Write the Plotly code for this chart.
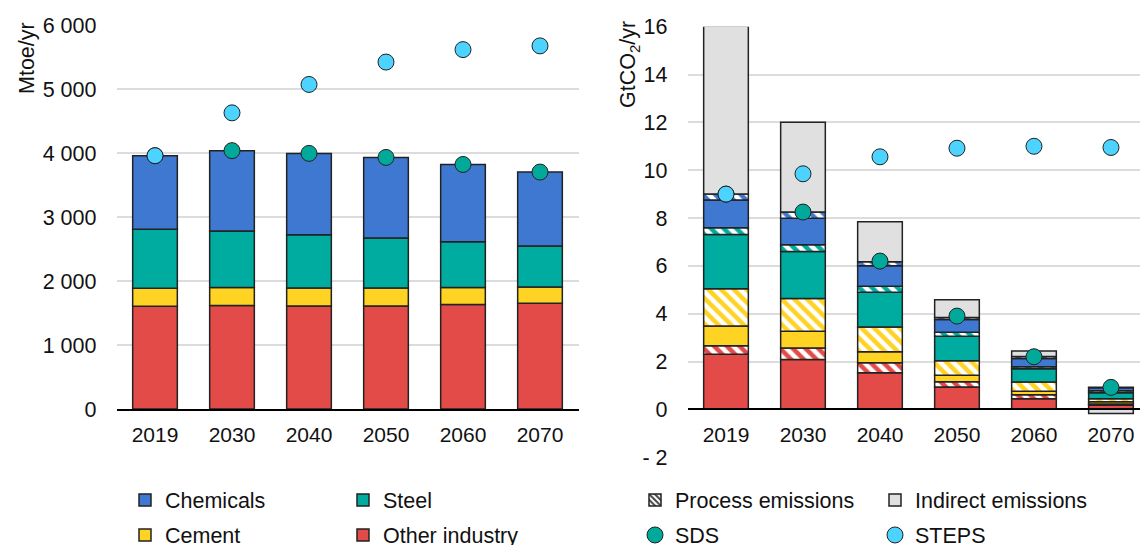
import plotly.graph_objects as go

years = ["2019", "2030", "2040", "2050", "2060", "2070"]

# Left panel: final energy demand (Mtoe/yr)
other_energy = [1606, 1617, 1611, 1611, 1633, 1653]
cement_energy = [282, 283, 282, 282, 267, 256]
steel_energy = [922, 883, 832, 780, 715, 639]
chem_energy = [1151, 1257, 1272, 1261, 1209, 1157]
sds_energy = [3961, 4040, 3997, 3934, 3824, 3705]
steps_energy = [3961, 4631, 5075, 5425, 5620, 5678]

# Right panel: CO2 emissions (GtCO2/yr)
other_direct = [2.30, 2.09, 1.53, 0.93, 0.44, 0.17]
other_process = [0.36, 0.48, 0.42, 0.22, 0.17, 0.05]
cement_direct = [0.83, 0.70, 0.46, 0.28, 0.15, 0.10]
cement_process = [1.55, 1.37, 1.03, 0.60, 0.38, 0.12]
steel_direct = [2.27, 1.96, 1.46, 1.03, 0.56, 0.25]
steel_process = [0.28, 0.28, 0.25, 0.16, 0.08, 0.09]
chem_direct = [1.16, 1.11, 0.85, 0.54, 0.35, 0.12]
chem_process = [0.25, 0.26, 0.17, 0.08, 0.08, 0.02]
indirect = [7.03, 3.76, 1.67, 0.74, 0.23, -0.17]
sds_co2 = [9.0, 8.25, 6.2, 3.9, 2.2, 0.92]
steps_co2 = [9.0, 9.85, 10.56, 10.92, 11.0, 10.95]

left_tickvals = [0, 1000, 2000, 3000, 4000, 5000, 6000]
left_ticktext = ["0", "1 000", "2 000", "3 000", "4 000", "5 000", "6 000"]
right_tickvals = [-2, 0, 2, 4, 6, 8, 10, 12, 14, 16]
right_ticktext = ["- 2", "0", "2", "4", "6", "8", "10", "12", "14", "16"]

C_CHEM = "#3F78D1"
C_STEEL = "#00AB9F"
C_CEM = "#FFD324"
C_OTHER = "#E34B48"
C_IND = "#E0E0E0"
C_SDS = "#00A99A"
C_STEPS = "#4DD3FF"
EDGE = "#222222"
FONT = "Liberation Sans, Arial, sans-serif"

OFF = 0  # body margin removed by post_script
W, H = 1140, 545
fig = go.Figure()

line = dict(color=EDGE, width=1.5)

# ---- left panel
for name, vals, col, lg in [
    ("Other industry", other_energy, C_OTHER, "legend4"),
    ("Cement", cement_energy, C_CEM, "legend3"),
    ("Steel", steel_energy, C_STEEL, "legend2"),
    ("Chemicals", chem_energy, C_CHEM, "legend"),
]:
    fig.add_trace(go.Bar(x=years, y=vals, name=name, marker=dict(color=col, line=line),
                         xaxis="x", yaxis="y", legend=lg))

fig.add_trace(go.Scatter(x=years, y=sds_energy, mode="markers", showlegend=False,
                         marker=dict(color=C_SDS, size=16, line=dict(color=EDGE, width=1)),
                         xaxis="x", yaxis="y"))
fig.add_trace(go.Scatter(x=years, y=steps_energy, mode="markers", showlegend=False,
                         marker=dict(color=C_STEPS, size=16, line=dict(color=EDGE, width=1)),
                         xaxis="x", yaxis="y"))

# ---- right panel
def solid(col):
    return dict(color=col, line=line)

def hatch(col):
    return dict(color="white", line=line,
                pattern=dict(shape="\\", fgcolor=col, bgcolor="white", size=9,
                             solidity=0.5, fgopacity=1))

for vals, mk in [
    (other_direct, solid(C_OTHER)), (other_process, hatch(C_OTHER)),
    (cement_direct, solid(C_CEM)), (cement_process, hatch(C_CEM)),
    (steel_direct, solid(C_STEEL)), (steel_process, hatch(C_STEEL)),
    (chem_direct, solid(C_CHEM)), (chem_process, hatch(C_CHEM)),
]:
    fig.add_trace(go.Bar(x=years, y=vals, marker=mk, showlegend=False,
                         xaxis="x2", yaxis="y2"))

fig.add_trace(go.Bar(x=years, y=indirect, name="Indirect emissions", marker=solid(C_IND),
                     xaxis="x2", yaxis="y2", legend="legend6"))
fig.add_trace(go.Bar(x=[years[0]], y=[None], name="Process emissions",
                     marker=dict(color="white", line=dict(color=EDGE, width=1.5),
                                 pattern=dict(shape="\\", fgcolor="#444444", bgcolor="white",
                                              size=5, solidity=0.5, fgopacity=1)),
                     xaxis="x2", yaxis="y2", legend="legend5"))
fig.add_trace(go.Scatter(x=years, y=sds_co2, mode="markers", name="SDS",
                         marker=dict(color=C_SDS, size=16, line=dict(color=EDGE, width=1)),
                         xaxis="x2", yaxis="y2", legend="legend7"))
fig.add_trace(go.Scatter(x=years, y=steps_co2, mode="markers", name="STEPS",
                         marker=dict(color=C_STEPS, size=16, line=dict(color=EDGE, width=1)),
                         xaxis="x2", yaxis="y2", legend="legend8"))

# ---- legends (positions in reference page pixels: text left edge, row centre)
legend_pos = {
    "legend": (165, 500), "legend2": (383, 500), "legend3": (165, 535), "legend4": (383, 535),
    "legend5": (675, 500), "legend6": (915, 500), "legend7": (675, 535), "legend8": (915, 535),
}
leg_layout = {}
for key, (tx, ty) in legend_pos.items():
    leg_layout[key] = dict(x=(tx - OFF - 40) / W, y=1 - (ty - OFF) / H, xanchor="left",
                           yanchor="middle", bgcolor="rgba(0,0,0,0)",
                           font=dict(size=21.5, family=FONT, color="#111"), itemwidth=30)

def px(x):
    return (x - OFF) / W

def py(y):
    return 1 - (y - OFF) / H

grid = "#DCDCDC"
fig.update_layout(
    width=W, height=H,
    margin=dict(l=0, r=0, t=0, b=0, autoexpand=False),
    paper_bgcolor="white", plot_bgcolor="white",
    barmode="relative", bargap=0.42,
    font=dict(family=FONT, size=21, color="#111"),
    xaxis=dict(domain=[px(116.5), px(578.5)], anchor="y", type="category",
               range=[-0.5, 5.5], showline=True, linecolor="black", linewidth=2,
               showgrid=False, tickfont=dict(size=21), ticks="", ticklabelstandoff=6),
    yaxis=dict(domain=[py(409), py(25.3)], anchor="x", range=[0, 6000],
               tickvals=left_tickvals, ticktext=left_ticktext, showgrid=True,
               gridcolor=grid, gridwidth=1.5, zeroline=False, showline=False,
               tickfont=dict(size=21.5), ticklabelstandoff=19),
    xaxis2=dict(domain=[px(687.5), 1.0], anchor="free", position=py(409.3),
                type="category", range=[-0.5, 5.377], showline=True, linecolor="black",
                linewidth=2, showgrid=False, tickfont=dict(size=21), ticks="",
                ticklabelstandoff=6),
    yaxis2=dict(domain=[py(457.2), py(26.7)], anchor="x2", range=[-2, 16],
                tickvals=right_tickvals, ticktext=right_ticktext, showgrid=True,
                gridcolor=grid, gridwidth=1.5, zeroline=False, showline=False,
                tickfont=dict(size=21.5), ticklabelstandoff=19),
    annotations=[
        dict(text="Mtoe/yr", x=px(27), y=py(58), xref="paper", yref="paper",
             textangle=-90, showarrow=False, font=dict(size=21.5), xanchor="center",
             yanchor="middle"),
        dict(text="GtCO<sub>2</sub>/yr", x=px(630), y=py(65), xref="paper", yref="paper",
             textangle=-90, showarrow=False, font=dict(size=21.5), xanchor="center",
             yanchor="middle"),
    ],
    **leg_layout,
)

fig.write_html(
    "out.html",
    config={"displayModeBar": False},
    post_script="document.body.style.margin='0';document.body.style.overflow='hidden';",
)
